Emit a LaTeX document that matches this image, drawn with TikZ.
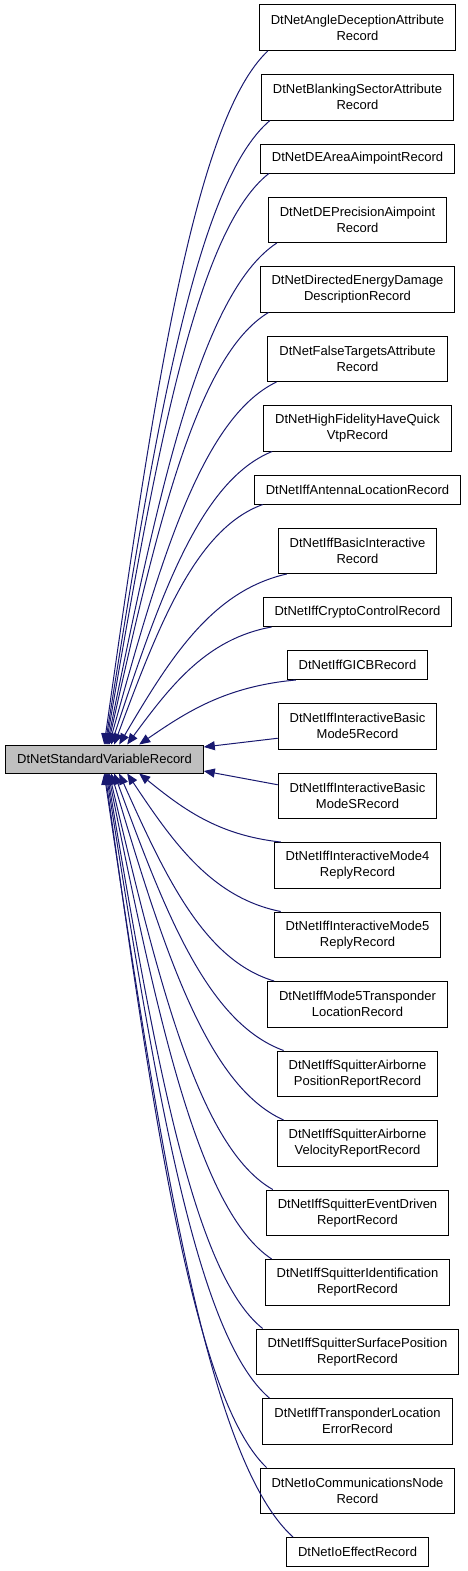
\documentclass[tikz,border=0pt]{standalone}
\usepackage{fontspec}
\setmainfont{Liberation Sans}
\usetikzlibrary{positioning,calc,arrows.meta}
\definecolor{edgeblue}{HTML}{191970}
\definecolor{basegray}{HTML}{BFBFBF}
\tikzstyle{cls} = [draw=black, line width=1pt, align=center, inner xsep=11.5pt, inner ysep=2pt, minimum height=45.5pt, font=\fontsize{13}{16}\selectfont]
\tikzstyle{oneline} = [minimum height=29pt]
\tikzstyle{inh} = [draw=edgeblue, line width=1pt, -{Triangle[length=11pt,width=9pt]}]
\newcommand{\kid}[3]{\node [cls, #1] (c#2) {#3};}

\begin{document}
\begin{tikzpicture}[x=1pt, y=1pt]
	\useasboundingbox (0,0) rectangle (467,-1571);
	\node [cls, fill=basegray, minimum height=28pt] (main) at (104.5,-759) {DtNetStandardVariableRecord};
	% derived classes, top to bottom
	\kid{at={(357.5,-27.75)}}{1}{DtNetAngleDeceptionAttribute\\Record}
	\kid{below=23pt of c1}{2}{DtNetBlankingSectorAttribute\\Record}
	\kid{oneline, below=23pt of c2}{3}{DtNetDEAreaAimpointRecord}
	\kid{below=23pt of c3}{4}{DtNetDEPrecisionAimpoint\\Record}
	\kid{below=23pt of c4}{5}{DtNetDirectedEnergyDamage\\DescriptionRecord}
	\kid{below=23pt of c5}{6}{DtNetFalseTargetsAttribute\\Record}
	\kid{below=23pt of c6}{7}{DtNetHighFidelityHaveQuick\\VtpRecord}
	\kid{oneline, below=23pt of c7}{8}{DtNetIffAntennaLocationRecord}
	\kid{below=23pt of c8}{9}{DtNetIffBasicInteractive\\Record}
	\kid{oneline, below=23pt of c9}{10}{DtNetIffCryptoControlRecord}
	\kid{oneline, below=23pt of c10}{11}{DtNetIffGICBRecord}
	\kid{below=23pt of c11}{12}{DtNetIffInteractiveBasic\\Mode5Record}
	\kid{below=23pt of c12}{13}{DtNetIffInteractiveBasic\\ModeSRecord}
	\kid{below=23pt of c13}{14}{DtNetIffInteractiveMode4\\ReplyRecord}
	\kid{below=23pt of c14}{15}{DtNetIffInteractiveMode5\\ReplyRecord}
	\kid{below=23pt of c15}{16}{DtNetIffMode5Transponder\\LocationRecord}
	\kid{below=23pt of c16}{17}{DtNetIffSquitterAirborne\\PositionReportRecord}
	\kid{below=23pt of c17}{18}{DtNetIffSquitterAirborne\\VelocityReportRecord}
	\kid{below=23pt of c18}{19}{DtNetIffSquitterEventDriven\\ReportRecord}
	\kid{below=23pt of c19}{20}{DtNetIffSquitterIdentification\\ReportRecord}
	\kid{below=23pt of c20}{21}{DtNetIffSquitterSurfacePosition\\ReportRecord}
	\kid{below=23pt of c21}{22}{DtNetIffTransponderLocation\\ErrorRecord}
	\kid{below=23pt of c22}{23}{DtNetIoCommunicationsNode\\Record}
	\kid{oneline, below=23pt of c23}{24}{DtNetIoEffectRecord}
	% inheritance arrows
	\foreach \i/\tx in {1/99,2/100,3/101,4/102,5/103,6/104,7/106,8/109,9/114,10/122,11/134}
		\draw[inh] let \p1=($(c\i.south west)+(9,0)$), \p2=($(main.north west)+(\tx,0)$), \n1={\x1-\x2}, \n2={\y1-\y2} in
			(\p1) .. controls +(-0.45*\n1,-0.1*\n2) and +(0.3*\n1,0.5*\n2) .. (\p2);
	\draw[inh] ($(c12.west)+(0,-12)$) -- ($(main.east)+(0,12)$);
	\draw[inh] ($(c13.west)+(0,11)$) -- ($(main.east)+(0,-12)$);
	\foreach \i/\tx in {14/134,15/122,16/114,17/109,18/106,19/104,20/103,21/102,22/101,23/100,24/99}
		\draw[inh] let \p1=($(c\i.north west)+(7,0)$), \p2=($(main.south west)+(\tx,0)$), \n1={\x1-\x2}, \n2={\y1-\y2} in
			(\p1) .. controls +(-0.45*\n1,-0.1*\n2) and +(0.3*\n1,0.5*\n2) .. (\p2);
\end{tikzpicture}
\end{document}
